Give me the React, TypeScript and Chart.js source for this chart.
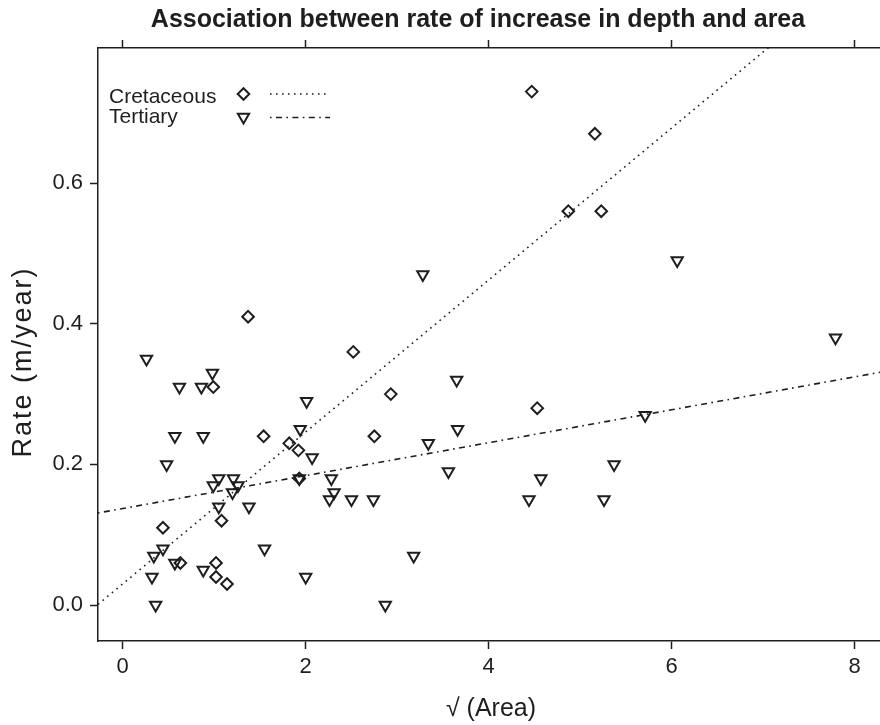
import React, { useEffect, useRef } from 'react';
import { Chart, registerables } from 'chart.js';

Chart.register(...registerables);

// ---- data ----
const cretaceousX = [0.44, 0.63, 0.99, 1.02, 1.02, 1.08, 1.14, 1.37, 1.54, 1.82, 1.92, 1.93, 2.52, 2.75, 2.93, 4.47, 4.53, 4.87, 5.16, 5.23];
const cretaceousY = [0.11, 0.06, 0.31, 0.06, 0.04, 0.12, 0.03, 0.41, 0.24, 0.23, 0.22, 0.18, 0.36, 0.24, 0.30, 0.73, 0.28, 0.56, 0.67, 0.56];

const tertiaryX = [0.26, 0.32, 0.34, 0.36, 0.44, 0.48, 0.57, 0.57, 0.62, 0.86, 0.88, 0.88, 0.98, 0.99, 1.05, 1.05, 1.20, 1.21, 1.26, 1.38, 1.55, 1.94, 1.93, 2.00, 2.01, 2.07, 2.26, 2.28, 2.31, 2.50, 2.74, 2.87, 3.18, 3.28, 3.34, 3.56, 3.65, 3.66, 4.44, 4.57, 5.26, 5.37, 5.71, 6.06, 7.79];
const tertiaryY = [0.35, 0.04, 0.07, 0.00, 0.08, 0.20, 0.24, 0.06, 0.31, 0.31, 0.24, 0.05, 0.33, 0.17, 0.18, 0.14, 0.16, 0.18, 0.17, 0.14, 0.08, 0.25, 0.18, 0.04, 0.29, 0.21, 0.15, 0.18, 0.16, 0.15, 0.15, 0.00, 0.07, 0.47, 0.23, 0.19, 0.32, 0.25, 0.15, 0.18, 0.15, 0.20, 0.27, 0.49, 0.38];

// fitted lines (end points)
const cretaceousFitX = [-0.27, 8.32];
const cretaceousFitY = [0.001, 0.929];
const tertiaryFitX = [-0.27, 8.32];
const tertiaryFitY = [0.131, 0.332];

const xTicks = [0, 2, 4, 6, 8];
const yTicks = [0, 0.2, 0.4, 0.6];
const xRange = [-0.27, 8.32];
const yRange = [-0.051, 0.792];

const legendLabels = ['Cretaceous', 'Tertiary'];
const titleText = 'Association between rate of increase in depth and area';
const xTitle = '\u221A (Area)';
const yTitle = 'Rate (m/year)';

const FONT = '"Liberation Sans", Arial, Helvetica, sans-serif';
const INK = '#1e1e1e';
const dottedDash = [1.6, 4.4];
const dotDashDash = [1.6, 4.4, 6, 4.4];

const toPts = (xs: number[], ys: number[]) => xs.map((x, i) => ({ x, y: ys[i] }));

const overlayPlugin = {
  id: 'overlay',
  afterDraw(chart: any) {
    const ctx = chart.ctx as CanvasRenderingContext2D;
    ctx.save();
    // title
    ctx.fillStyle = INK;
    ctx.font = `bold 25px ${FONT}`;
    ctx.textAlign = 'center';
    ctx.textBaseline = 'alphabetic';
    ctx.fillText(titleText, 478, 27);

    // y axis title (rotated)
    ctx.save();
    ctx.translate(24, 362);
    ctx.rotate(-Math.PI / 2);
    ctx.font = `27px ${FONT}`;
    (ctx as any).letterSpacing = '2px';
    ctx.textAlign = 'center';
    ctx.textBaseline = 'middle';
    ctx.fillText(yTitle, 0, 0);
    ctx.restore();

    // legend
    ctx.font = `21px ${FONT}`;
    ctx.textAlign = 'left';
    ctx.textBaseline = 'alphabetic';
    ctx.fillText(legendLabels[0], 109, 103);
    ctx.fillText(legendLabels[1], 109, 123);

    ctx.strokeStyle = INK;
    ctx.lineWidth = 2;
    // diamond
    const dx = 243.5, dy = 94, r = 5.8;
    ctx.beginPath();
    ctx.moveTo(dx, dy - r);
    ctx.lineTo(dx + r, dy);
    ctx.lineTo(dx, dy + r);
    ctx.lineTo(dx - r, dy);
    ctx.closePath();
    ctx.stroke();
    // triangle (down)
    const tx = 243.5, ty = 117, tr = 6.5;
    ctx.beginPath();
    ctx.moveTo(tx, ty + tr);
    ctx.lineTo(tx + tr * Math.sin(Math.PI / 3), ty - tr * 0.5);
    ctx.lineTo(tx - tr * Math.sin(Math.PI / 3), ty - tr * 0.5);
    ctx.closePath();
    ctx.stroke();
    // line samples
    ctx.lineWidth = 1.6;
    ctx.setLineDash(dottedDash);
    ctx.beginPath();
    ctx.moveTo(270, 94);
    ctx.lineTo(330, 94);
    ctx.stroke();
    ctx.setLineDash(dotDashDash);
    ctx.beginPath();
    ctx.moveTo(270, 117.5);
    ctx.lineTo(330, 117.5);
    ctx.stroke();
    ctx.restore();
  },
};

export default function App() {
  const ref = useRef<HTMLCanvasElement | null>(null);
  useEffect(() => {
    if (!ref.current) return;
    const axisGrid = {
      drawOnChartArea: false,
      drawTicks: true,
      tickLength: 8,
      tickWidth: 1.5,
      tickColor: INK,
    };
    const axisBorder = { display: true, color: INK, width: 1.5 };
    const chart = new Chart(ref.current, {
      type: 'scatter',
      data: {
        datasets: [
          {
            label: legendLabels[0],
            data: toPts(cretaceousX, cretaceousY),
            pointStyle: 'rectRot',
            pointRadius: 5.8,
            pointBorderWidth: 2,
            borderColor: INK,
            backgroundColor: 'rgba(0,0,0,0)',
            showLine: false,
          },
          {
            label: legendLabels[1],
            data: toPts(tertiaryX, tertiaryY),
            pointStyle: 'triangle',
            rotation: 180,
            pointRadius: 6.5,
            pointBorderWidth: 2,
            borderColor: INK,
            backgroundColor: 'rgba(0,0,0,0)',
            showLine: false,
          },
          {
            label: 'Cretaceous fit',
            data: toPts(cretaceousFitX, cretaceousFitY),
            showLine: true,
            borderColor: INK,
            borderWidth: 1.6,
            borderDash: dottedDash,
            pointRadius: 0,
            fill: false,
          },
          {
            label: 'Tertiary fit',
            data: toPts(tertiaryFitX, tertiaryFitY),
            showLine: true,
            borderColor: INK,
            borderWidth: 1.6,
            borderDash: dotDashDash,
            pointRadius: 0,
            fill: false,
          },
        ],
      } as any,
      options: {
        animation: false,
        responsive: false,
        devicePixelRatio: 1,
        layout: { padding: { left: 0, right: 16, top: 0, bottom: 0 } },
        plugins: {
          legend: { display: false },
          title: { display: false },
          tooltip: { enabled: false },
        },
        scales: {
          x: {
            type: 'linear',
            position: 'bottom',
            min: xRange[0],
            max: xRange[1],
            afterBuildTicks: (s: any) => { s.ticks = xTicks.map((v) => ({ value: v })); },
            afterFit: (s: any) => { s.height = 84; },
            grid: axisGrid,
            border: axisBorder,
            ticks: { color: INK, font: { family: FONT, size: 22 }, padding: 5, maxRotation: 0, callback: (v: any) => String(v) },
            title: { display: true, text: xTitle, color: INK, font: { family: FONT, size: 25 }, padding: { top: 0, bottom: 1 } },
          },
          x2: {
            type: 'linear',
            position: 'top',
            min: xRange[0],
            max: xRange[1],
            afterBuildTicks: (s: any) => { s.ticks = xTicks.map((v) => ({ value: v })); },
            afterFit: (s: any) => { s.height = 48; },
            grid: axisGrid,
            border: axisBorder,
            ticks: { display: false },
          },
          y: {
            type: 'linear',
            position: 'left',
            min: yRange[0],
            max: yRange[1],
            afterBuildTicks: (s: any) => { s.ticks = yTicks.map((v) => ({ value: v })); },
            afterFit: (s: any) => { s.width = 98; },
            grid: axisGrid,
            border: axisBorder,
            ticks: { color: INK, font: { family: FONT, size: 22 }, padding: 7, callback: (v: any) => Number(v).toFixed(1) },
            title: { display: false },
          },
        } as any,
      },
      plugins: [overlayPlugin],
    });
    return () => chart.destroy();
  }, []);

  return (
    <div style={{ position: 'absolute', left: 0, top: 0, width: 880, height: 725, overflow: 'hidden', background: '#fff' }}>
      <canvas ref={ref} width={900} height={725} style={{ display: 'block', width: 900, height: 725 }} />
    </div>
  );
}
